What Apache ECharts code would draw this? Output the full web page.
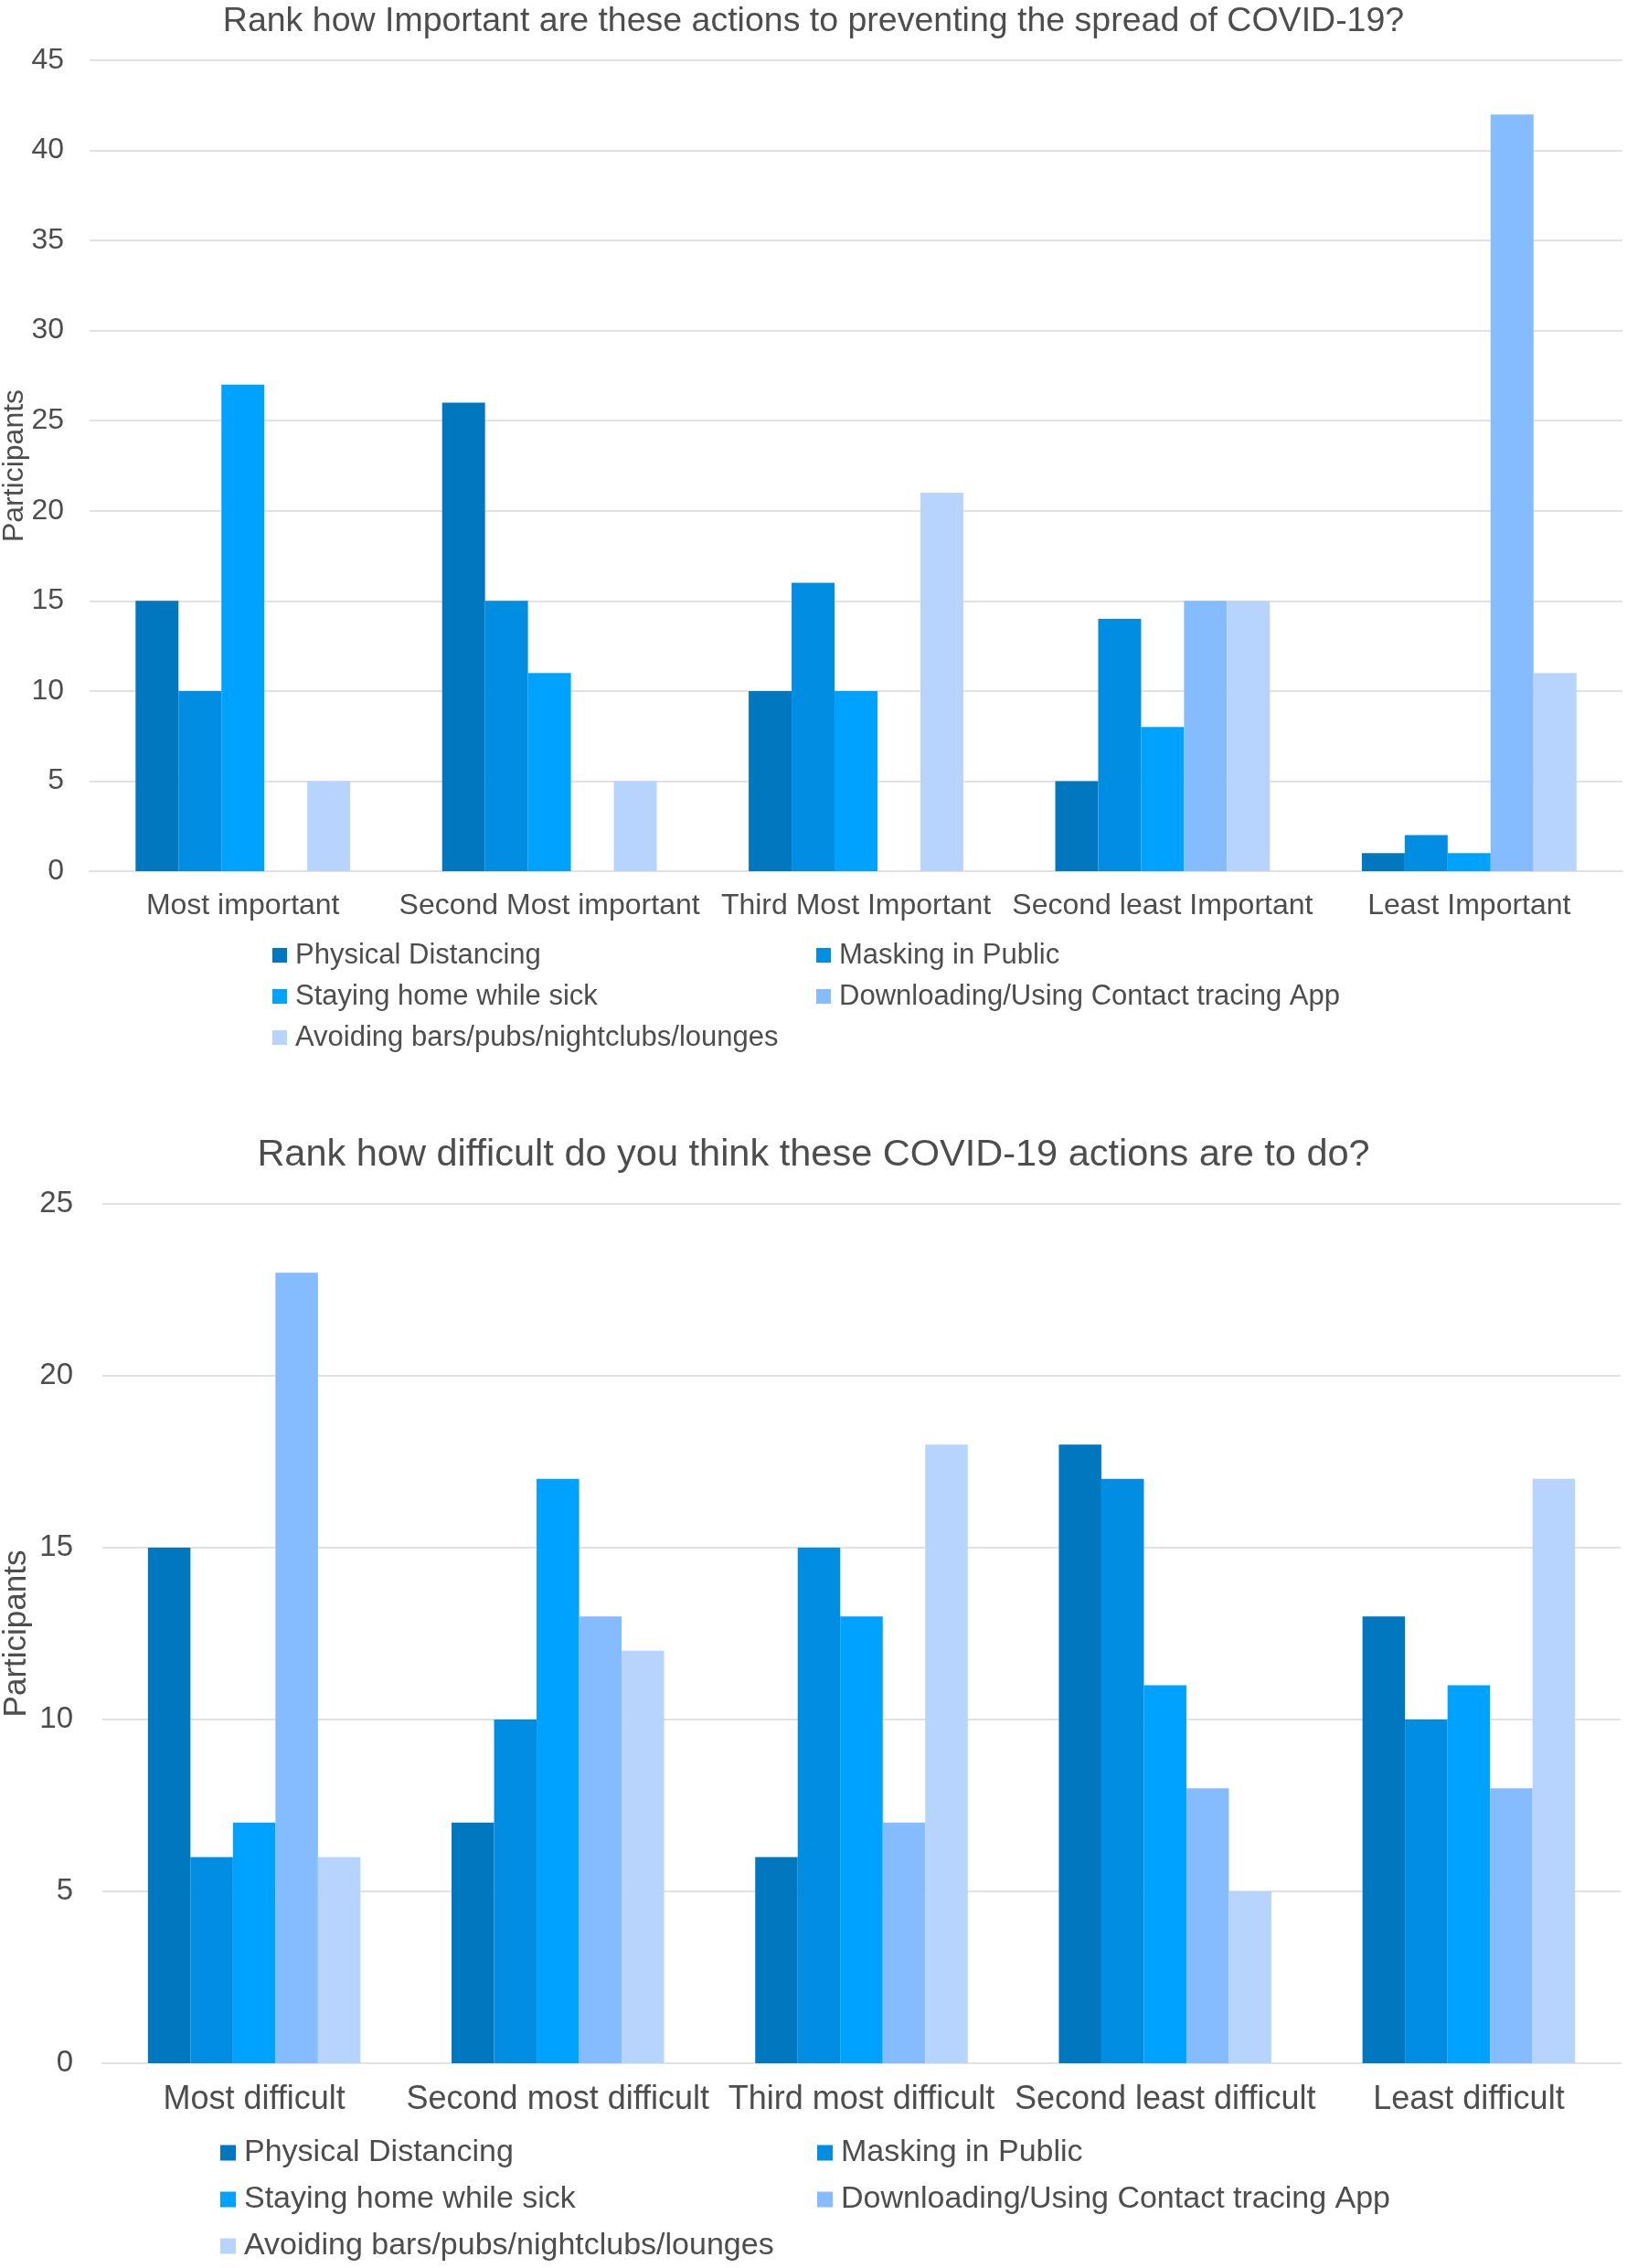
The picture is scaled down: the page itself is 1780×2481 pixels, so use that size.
<!DOCTYPE html>
<html>
<head>
<meta charset="utf-8">
<script src="https://cdn.jsdelivr.net/npm/echarts@6/dist/echarts.min.js"></script>
<style>
  html, body { margin: 0; padding: 0; background: #fff; }
  #main { width: 1780px; height: 2481px; }
</style>
</head>
<body>
<div id="main"></div>
<script>
// series names (same actions in both charts)
var actions = ['Physical Distancing', 'Masking in Public', 'Staying home while sick',
    'Downloading/Using Contact tracing App', 'Avoiding bars/pubs/nightclubs/lounges'];
var colors = ['#0077BE', '#008DE2', '#00A2FF', '#84BCFF', '#B6D4FE'];

// chart 1 - importance
var importCats = ['Most important', 'Second Most important', 'Third Most Important',
    'Second least Important', 'Least Important'];
var impDistancing = [15, 26, 10, 5, 1];
var impMasking = [10, 15, 16, 14, 2];
var impStayHome = [27, 11, 10, 8, 1];
var impApp = [0, 0, 0, 15, 42];
var impBars = [5, 5, 21, 15, 11];

// chart 2 - difficulty
var diffCats = ['Most difficult', 'Second most difficult', 'Third most difficult',
    'Second least difficult', 'Least difficult'];
var difDistancing = [15, 7, 6, 18, 13];
var difMasking = [6, 10, 15, 17, 10];
var difStayHome = [7, 17, 13, 11, 11];
var difApp = [23, 13, 7, 8, 8];
var difBars = [6, 12, 18, 5, 17];

var font = 'Liberation Sans, Arial, Helvetica, sans-serif';
var txt = '#4d4d4d';
var gridCol = '#e2e2e2';

function barSeries(name, data, idx, color) {
    return {
        name: name,
        type: 'bar',
        xAxisIndex: idx,
        yAxisIndex: idx,
        data: data,
        barGap: '0%',
        barCategoryGap: '30%',
        itemStyle: { color: color },
        emphasis: { disabled: true }
    };
}

function legendBlock(items, left, top, size, lh, gap, icon) {
    return {
        orient: 'vertical',
        left: left,
        top: top,
        bottom: 0,
        padding: 0,
        data: items,
        icon: 'rect',
        itemWidth: icon,
        itemHeight: icon,
        itemGap: gap,
        selectedMode: false,
        textStyle: { fontFamily: font, fontSize: size, lineHeight: lh, color: txt, padding: [0, 0, 0, 4] }
    };
}

var dom = document.getElementById('main');
var myChart = echarts.init(dom);

var option = {
    backgroundColor: '#ffffff',
    animation: false,
    color: colors,
    title: [{
        text: 'Rank how Important are these actions to preventing the spread of COVID-19?',
        left: 'center',
        top: 0,
        textStyle: { fontFamily: font, fontSize: 37.5, fontWeight: 'normal', color: txt }
    }, {
        text: 'Rank how difficult do you think these COVID-19 actions are to do?',
        left: 'center',
        top: 1238,
        textStyle: { fontFamily: font, fontSize: 41.5, fontWeight: 'normal', color: txt }
    }],
    legend: [
        legendBlock([actions[0], actions[2], actions[4]], 298, 1028, 31, 34, 11, 16),
        legendBlock([actions[1], actions[3]], 893, 1028, 31, 34, 11, 16),
        legendBlock([actions[0], actions[2], actions[4]], 241, 2337, 34, 36, 15, 17),
        legendBlock([actions[1], actions[3]], 894, 2337, 34, 36, 15, 17)
    ],
    grid: [
        { left: 98, right: 5, top: 66, height: 887, outerBoundsMode: 'none' },
        { left: 112, right: 7, top: 1317, height: 940, outerBoundsMode: 'none' }
    ],
    xAxis: [{
        type: 'category',
        gridIndex: 0,
        data: importCats,
        axisTick: { show: false },
        axisLine: { lineStyle: { color: gridCol, width: 2 } },
        axisLabel: { fontFamily: font, fontSize: 32, color: txt, margin: 22, interval: 0 }
    }, {
        type: 'category',
        gridIndex: 1,
        data: diffCats,
        axisTick: { show: false },
        axisLine: { lineStyle: { color: gridCol, width: 2 } },
        axisLabel: { fontFamily: font, fontSize: 36, color: txt, margin: 22, interval: 0 }
    }],
    yAxis: [{
        type: 'value',
        gridIndex: 0,
        min: 0,
        max: 45,
        interval: 5,
        name: 'Participants',
        nameLocation: 'middle',
        nameGap: 66,
        nameMoveOverlap: false,
        nameTextStyle: { fontFamily: font, fontSize: 32, color: txt },
        axisLabel: { fontFamily: font, fontSize: 32, color: txt, margin: 28 },
        splitLine: { lineStyle: { color: gridCol, width: 2 } }
    }, {
        type: 'value',
        gridIndex: 1,
        min: 0,
        max: 25,
        interval: 5,
        name: 'Participants',
        nameLocation: 'middle',
        nameGap: 76,
        nameMoveOverlap: false,
        nameTextStyle: { fontFamily: font, fontSize: 35, color: txt },
        axisLabel: { fontFamily: font, fontSize: 33, color: txt, margin: 32 },
        splitLine: { lineStyle: { color: gridCol, width: 2 } }
    }],
    series: [
        barSeries(actions[0], impDistancing, 0, colors[0]),
        barSeries(actions[1], impMasking, 0, colors[1]),
        barSeries(actions[2], impStayHome, 0, colors[2]),
        barSeries(actions[3], impApp, 0, colors[3]),
        barSeries(actions[4], impBars, 0, colors[4]),
        barSeries(actions[0], difDistancing, 1, colors[0]),
        barSeries(actions[1], difMasking, 1, colors[1]),
        barSeries(actions[2], difStayHome, 1, colors[2]),
        barSeries(actions[3], difApp, 1, colors[3]),
        barSeries(actions[4], difBars, 1, colors[4])
    ]
};

myChart.setOption(option);
</script>
</body>
</html>
